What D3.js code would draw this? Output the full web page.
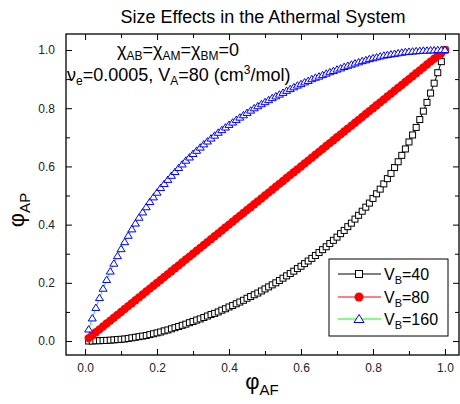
<!DOCTYPE html>
<html>
<head>
<meta charset="utf-8">
<script src="https://cdn.jsdelivr.net/npm/d3@7"></script>
<style>
body { margin: 0; background: #fff; }
svg { display: block; font-family: "Liberation Sans", Arial, sans-serif; }
</style>
</head>
<body>
<svg id="chart" width="460" height="404"></svg>
<script>
// phi_AF (x) for every point
const phiAF = [
  0.01,0.02,0.03,0.04,0.05,0.06,0.07,0.08,0.09,0.10,
  0.11,0.12,0.13,0.14,0.15,0.16,0.17,0.18,0.19,0.20,
  0.21,0.22,0.23,0.24,0.25,0.26,0.27,0.28,0.29,0.30,
  0.31,0.32,0.33,0.34,0.35,0.36,0.37,0.38,0.39,0.40,
  0.41,0.42,0.43,0.44,0.45,0.46,0.47,0.48,0.49,0.50,
  0.51,0.52,0.53,0.54,0.55,0.56,0.57,0.58,0.59,0.60,
  0.61,0.62,0.63,0.64,0.65,0.66,0.67,0.68,0.69,0.70,
  0.71,0.72,0.73,0.74,0.75,0.76,0.77,0.78,0.79,0.80,
  0.81,0.82,0.83,0.84,0.85,0.86,0.87,0.88,0.89,0.90,
  0.91,0.92,0.93,0.94,0.95,0.96,0.97,0.98,0.99,1.00
];

// phi_AP, V_B = 40
const phiAP40 = [
  0.000,0.000,0.001,0.001,0.002,0.002,0.003,0.004,0.005,0.006,
  0.007,0.009,0.011,0.013,0.015,0.017,0.019,0.022,0.025,0.028,
  0.031,0.035,0.038,0.042,0.046,0.050,0.054,0.058,0.063,0.067,
  0.072,0.076,0.081,0.086,0.091,0.095,0.100,0.106,0.111,0.117,
  0.122,0.128,0.134,0.140,0.147,0.153,0.159,0.165,0.172,0.179,
  0.186,0.193,0.200,0.208,0.216,0.224,0.232,0.240,0.249,0.257,
  0.266,0.275,0.284,0.294,0.304,0.314,0.324,0.335,0.346,0.357,
  0.369,0.380,0.393,0.405,0.419,0.432,0.446,0.460,0.474,0.490,
  0.506,0.522,0.540,0.558,0.576,0.596,0.616,0.638,0.660,0.684,
  0.708,0.734,0.761,0.790,0.820,0.852,0.886,0.922,0.960,1.000
];

// phi_AP, V_B = 80
const phiAP80 = [
  0.01,0.02,0.03,0.04,0.05,0.06,0.07,0.08,0.09,0.10,
  0.11,0.12,0.13,0.14,0.15,0.16,0.17,0.18,0.19,0.20,
  0.21,0.22,0.23,0.24,0.25,0.26,0.27,0.28,0.29,0.30,
  0.31,0.32,0.33,0.34,0.35,0.36,0.37,0.38,0.39,0.40,
  0.41,0.42,0.43,0.44,0.45,0.46,0.47,0.48,0.49,0.50,
  0.51,0.52,0.53,0.54,0.55,0.56,0.57,0.58,0.59,0.60,
  0.61,0.62,0.63,0.64,0.65,0.66,0.67,0.68,0.69,0.70,
  0.71,0.72,0.73,0.74,0.75,0.76,0.77,0.78,0.79,0.80,
  0.81,0.82,0.83,0.84,0.85,0.86,0.87,0.88,0.89,0.90,
  0.91,0.92,0.93,0.94,0.95,0.96,0.97,0.98,0.99,1.00
];

// phi_AP, V_B = 160
const phiAP160 = [
  0.040,0.078,0.114,0.148,0.180,0.210,0.239,0.266,0.292,0.316,
  0.340,0.362,0.384,0.404,0.424,0.442,0.460,0.478,0.494,0.510,
  0.526,0.540,0.554,0.568,0.581,0.595,0.607,0.620,0.631,0.643,
  0.654,0.665,0.676,0.686,0.696,0.706,0.716,0.725,0.734,0.743,
  0.751,0.760,0.768,0.776,0.784,0.792,0.800,0.807,0.814,0.821,
  0.828,0.835,0.841,0.847,0.853,0.860,0.866,0.872,0.878,0.883,
  0.889,0.894,0.900,0.905,0.909,0.914,0.919,0.924,0.928,0.933,
  0.937,0.942,0.946,0.950,0.954,0.958,0.962,0.965,0.969,0.972,
  0.975,0.978,0.981,0.983,0.985,0.987,0.989,0.991,0.993,0.994,
  0.995,0.996,0.997,0.998,0.998,0.999,0.999,1.000,1.000,1.000
];

const majorTicks = [0.0, 0.2, 0.4, 0.6, 0.8, 1.0];
const minorTicks = [0.1, 0.3, 0.5, 0.7, 0.9];
const legendLabels = ["40", "80", "160"];

// writes "text_sub" runs into a <text>: [string, isSub]
function richText(sel, parts, subSize) {
    let shift = 0;
    parts.forEach(([s, kind]) => {
        const want = kind === "sub" ? 4 : kind === "sup" ? -7 : 0;
        const ts = sel.append("tspan").attr("dy", want - shift).text(s);
        if (kind) ts.attr("font-size", subSize);
        shift = want;
    });
}

function drawChart() {
    const svg = d3.select("#chart");
    svg.selectAll("*").remove();

    const left = 66, right = 459, top = 34, bottom = 355;

    const x = d3.scaleLinear().domain([-0.053, 1.039]).range([left, right]);
    const y = d3.scaleLinear().domain([-0.048, 1.055]).range([bottom, top]);

    const fmt = d3.format(".1f");

    // ticks (all inward, Origin style)
    const addAxis = (axis, tr, ticks, size, labels) => {
        const g = svg.append("g")
            .attr("transform", tr)
            .call(axis.tickValues(ticks).tickSizeInner(-size).tickSizeOuter(0)
                .tickPadding(labels ? 8 : 0)
                .tickFormat(labels ? fmt : ""));
        g.select(".domain").remove();
        g.selectAll("line").attr("stroke", "#000").attr("stroke-width", 1);
        g.selectAll("text").attr("font-size", 12).attr("fill", "#222")
            .attr("font-family", "Liberation Sans, Arial, sans-serif");
        return g;
    };

    addAxis(d3.axisBottom(x), `translate(0,${bottom})`, majorTicks, 6, true);
    addAxis(d3.axisBottom(x), `translate(0,${bottom})`, minorTicks, 4, false);
    addAxis(d3.axisTop(x), `translate(0,${top})`, majorTicks, 6, false);
    addAxis(d3.axisTop(x), `translate(0,${top})`, minorTicks, 4, false);
    const yl = addAxis(d3.axisLeft(y), `translate(${left},0)`, majorTicks, 6, true);
    yl.selectAll("text").attr("x", -11);
    addAxis(d3.axisLeft(y), `translate(${left},0)`, minorTicks, 4, false);
    addAxis(d3.axisRight(y), `translate(${right},0)`, majorTicks, 6, false);
    addAxis(d3.axisRight(y), `translate(${right},0)`, minorTicks, 4, false);

    // frame
    svg.append("rect")
       .attr("x", left).attr("y", top)
       .attr("width", right - left).attr("height", bottom - top)
       .attr("fill", "none").attr("stroke", "#000").attr("stroke-width", 1.3);

    const pts = ys => phiAF.map((v, i) => [v, ys[i]]);
    const line = d3.line().x(d => x(d[0])).y(d => y(d[1]));

    // V_B = 40 : open squares
    const s40 = pts(phiAP40);
    svg.append("path").attr("d", line(s40))
       .attr("fill", "none").attr("stroke", "#000").attr("stroke-width", 1);
    svg.append("g").selectAll("rect").data(s40).enter().append("rect")
       .attr("x", d => x(d[0]) - 3).attr("y", d => y(d[1]) - 3)
       .attr("width", 6).attr("height", 6)
       .attr("fill", "#fff").attr("stroke", "#000").attr("stroke-width", 1);

    // V_B = 80 : filled red circles
    const s80 = pts(phiAP80);
    svg.append("path").attr("d", line(s80))
       .attr("fill", "none").attr("stroke", "#ff0000").attr("stroke-width", 1);
    svg.append("g").selectAll("circle").data(s80).enter().append("circle")
       .attr("cx", d => x(d[0])).attr("cy", d => y(d[1]))
       .attr("r", 4.2).attr("fill", "#ff0000");

    // V_B = 160 : open blue triangles, green line
    const s160 = pts(phiAP160);
    const tri = (cx, cy) => `M${cx},${cy - 3.8}L${cx + 4},${cy + 2.6}L${cx - 4},${cy + 2.6}Z`;
    svg.append("path").attr("d", line(s160))
       .attr("fill", "none").attr("stroke", "#00ff00").attr("stroke-width", 1);
    svg.append("g").selectAll("path").data(s160).enter().append("path")
       .attr("d", d => tri(x(d[0]), y(d[1])))
       .attr("fill", "#fff").attr("stroke", "#0000ff").attr("stroke-width", 1);

    // title
    svg.append("text")
       .attr("x", 263).attr("y", 23)
       .attr("text-anchor", "middle")
       .attr("font-size", 18)
       .text("Size Effects in the Athermal System");

    // annotations
    const t1 = svg.append("text").attr("x", 178).attr("y", 56)
        .attr("text-anchor", "middle").attr("font-size", 18);
    richText(t1, [["χ"], ["AB", "sub"], ["=χ"], ["AM", "sub"], ["=χ"], ["BM", "sub"], ["=0"]], 12);

    const t2 = svg.append("text").attr("x", 67).attr("y", 81).attr("font-size", 18);
    richText(t2, [["ν"], ["e", "sub"], ["=0.0005, V"], ["A", "sub"], ["=80 (cm"], ["3", "sup"], ["/mol)"]], 12);

    // axis titles
    const xt = svg.append("text").attr("x", 262).attr("y", 389)
        .attr("text-anchor", "middle").attr("font-size", 22);
    xt.append("tspan").text("φ");
    xt.append("tspan").attr("font-size", 15).attr("dy", 6).text("AF");

    const yt = svg.append("text")
        .attr("transform", "translate(24,210) rotate(-90)")
        .attr("text-anchor", "middle").attr("font-size", 22);
    yt.append("tspan").text("φ");
    yt.append("tspan").attr("font-size", 15).attr("dy", 6).text("AP");

    // legend
    const lg = svg.append("g").attr("transform", "translate(329,259)");
    lg.append("rect").attr("width", 119).attr("height", 77)
      .attr("fill", "#fff").attr("stroke", "#000").attr("stroke-width", 1);
    const rows = [15, 38, 60];
    const lineCol = ["#000", "#ff0000", "#00ff00"];
    legendLabels.forEach((lab, i) => {
        const r = lg.append("g").attr("transform", `translate(0,${rows[i]})`);
        r.append("line").attr("x1", 9).attr("x2", 52)
         .attr("stroke", lineCol[i]).attr("stroke-width", 1);
        if (i === 0) {
            r.append("rect").attr("x", 26.5).attr("y", -3.5).attr("width", 7).attr("height", 7)
             .attr("fill", "#fff").attr("stroke", "#000");
        } else if (i === 1) {
            r.append("circle").attr("cx", 30).attr("r", 4.5).attr("fill", "#ff0000");
        } else {
            r.append("path").attr("d", "M30,-4.5L35,3.5L25,3.5Z")
             .attr("fill", "#fff").attr("stroke", "#0000ff");
        }
        const t = r.append("text").attr("x", 55).attr("y", 6).attr("font-size", 16);
        richText(t, [["V"], ["B", "sub"], ["=" + lab]], 11);
    });
}

drawChart();
</script>
</body>
</html>
